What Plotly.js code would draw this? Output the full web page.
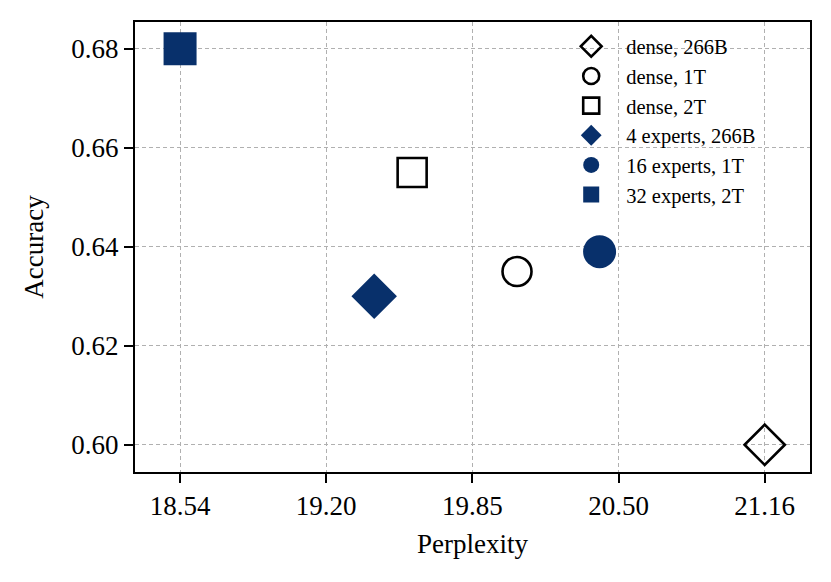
<!DOCTYPE html>
<html>
<head>
<meta charset="utf-8">
<script src="https://cdn.plot.ly/plotly-3.0.1.min.js"></script>
<style>
  html, body { margin: 0; padding: 0; background: #fff; }
  #chart { width: 831px; height: 582px; }
</style>
</head>
<body>
<div id="chart"></div>
<script>
// model configurations and their scores
var labels = ['dense, 266B', 'dense, 1T', 'dense, 2T', '4 experts, 266B', '16 experts, 1T', '32 experts, 2T'];
var perplexity = [21.16, 20.05, 19.58, 19.41, 20.42, 18.54];
var accuracy = [0.600, 0.635, 0.655, 0.630, 0.639, 0.680];

var x_tick_vals = [18.54, 19.195, 19.85, 20.505, 21.16];
var x_tick_text = ['18.54', '19.20', '19.85', '20.50', '21.16'];
var y_tick_vals = [0.60, 0.62, 0.64, 0.66, 0.68];

// marker styles, one per trace
var symbols = ['diamond-open', 'circle-open', 'square-open', 'diamond', 'circle', 'square'];
var sizes = [31, 29, 29, 35, 33, 33];
var colors = ['#000000', '#000000', '#000000', '#08306b', '#08306b', '#08306b'];

var font_family = '"Liberation Serif", "Times New Roman", serif';

function on_start(){
    var chart = document.getElementById('chart');

    var data = [];
    for (var i = 0; i < labels.length; i++) {
        data.push({
            type: 'scatter',
            mode: 'markers',
            name: labels[i],
            x: [perplexity[i]],
            y: [accuracy[i]],
            marker: {
                symbol: symbols[i],
                size: sizes[i],
                color: colors[i],
                line: {width: symbols[i].indexOf('open') > 0 ? 2.6 : 0, color: colors[i]}
            },
            cliponaxis: false
        });
    }

    var grid_style = {
        showgrid: true,
        gridcolor: '#b0b0b0',
        gridwidth: 1,
        griddash: '4px,3px',
        zeroline: false,
        showline: true,
        mirror: true,
        linecolor: '#000',
        linewidth: 2,
        ticks: 'outside',
        ticklen: 9,
        tickwidth: 2,
        tickcolor: '#000',
        tickfont: {family: font_family, size: 27, color: '#000'}
    };

    var layout = {
        width: 831,
        height: 582,
        margin: {l: 135, r: 21, t: 22, b: 110},
        paper_bgcolor: '#fff',
        plot_bgcolor: '#fff',
        font: {family: font_family, color: '#000'},
        showlegend: true,
        legend: {
            x: 0.624, y: 0.99,
            xanchor: 'left', yanchor: 'top',
            bgcolor: 'rgba(0,0,0,0)',
            borderwidth: 0,
            itemwidth: 60,
            font: {family: font_family, size: 20.5, color: '#000'}
        },
        xaxis: Object.assign({}, grid_style, {
            range: [18.338, 21.363],
            tickmode: 'array',
            tickvals: x_tick_vals,
            ticktext: x_tick_text,
            title: {text: 'Perplexity', font: {family: font_family, size: 27}, standoff: 14}
        }),
        yaxis: Object.assign({}, grid_style, {
            range: [0.5945, 0.6854],
            tickmode: 'array',
            tickvals: y_tick_vals,
            ticktext: y_tick_vals.map(function(v){ return v.toFixed(2); }),
            title: {text: 'Accuracy', font: {family: font_family, size: 27}, standoff: 20}
        })
    };

    Plotly.newPlot(chart, data, layout, {displayModeBar: false, staticPlot: true});
}

on_start();
</script>
</body>
</html>
